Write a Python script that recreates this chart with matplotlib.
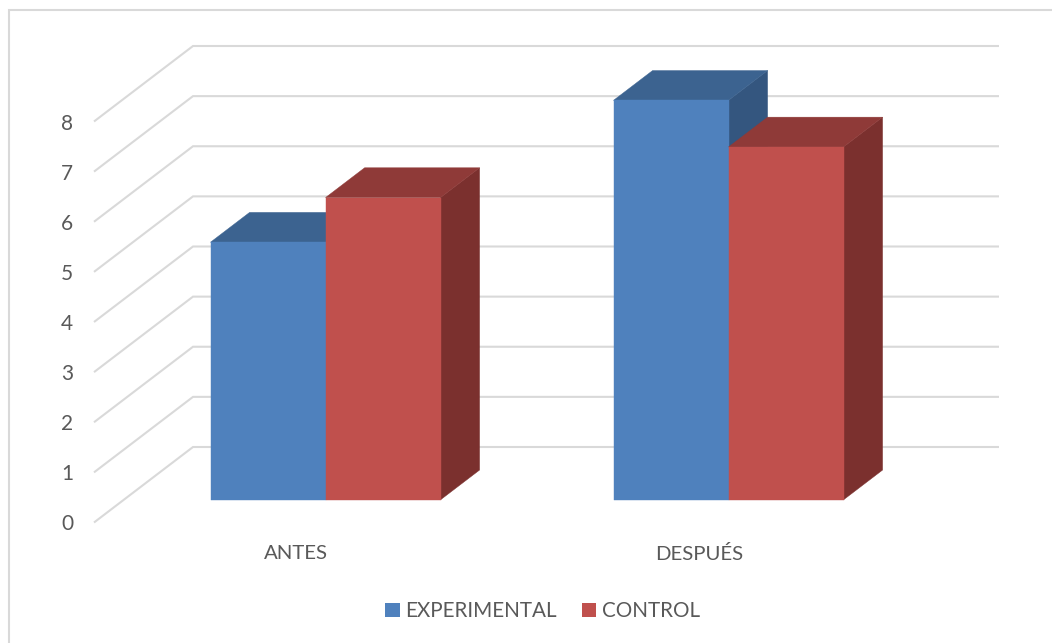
import matplotlib
matplotlib.use("Agg")
import matplotlib.pyplot as plt
from matplotlib.patches import Polygon, Rectangle

categories = ["ANTES", "DESPUÉS"]
experimental = [5.14, 7.97]
control = [6.03, 7.04]
y_ticks = [0, 1, 2, 3, 4, 5, 6, 7, 8]

plt.rcParams['font.family'] = ['Lato', 'DejaVu Sans']
TEXT = '#595959'
GRID = '#D9D9D9'
W, H = 1052, 643
fig = plt.figure(figsize=(W / 100, H / 100), dpi=100, facecolor='white')

# axes = front plane of the 3D box, in pixels of the figure
L, R, B, T = 94, 900, 522.5, 121.5
ax = fig.add_axes([L / W, 1 - B / H, (R - L) / W, (B - T) / H])
PX_X = 403.0
X0 = 295.8
ax.set_xlim((L - X0) / PX_X, (R - X0) / PX_X)
ax.set_ylim(0, 8)
ax.patch.set_alpha(0)
for s in ax.spines.values():
    s.set_visible(False)

DX = 99 / PX_X
DY = 75.5 / ((B - T) / 8)
D_FRONT, D_BACK = 0.30, 0.695
BAR_W = 115 / PX_X


def proj(x, v, d):
    return (x + d * DX, v + d * DY)


# grid: side wall then back wall
xl, xr = ax.get_xlim()
for v in y_ticks:
    pts = [proj(xl, v, 0), proj(xl, v, 1), proj(xr, v, 1)]
    ax.plot(*zip(*pts), color=GRID, lw=1.5, clip_on=False, zorder=1,
            solid_joinstyle='miter', solid_capstyle='butt')


def bar3d(x0, x1, v, front, top, side, z):
    faces = [
        ([proj(x1, 0, D_FRONT), proj(x1, 0, D_BACK), proj(x1, v, D_BACK), proj(x1, v, D_FRONT)], side),
        ([proj(x0, v, D_FRONT), proj(x1, v, D_FRONT), proj(x1, v, D_BACK), proj(x0, v, D_BACK)], top),
        ([proj(x0, 0, D_FRONT), proj(x1, 0, D_FRONT), proj(x1, v, D_FRONT), proj(x0, v, D_FRONT)], front),
    ]
    for pts, c in faces:
        ax.add_patch(Polygon(pts, closed=True, facecolor=c, edgecolor=c, lw=0.3,
                             clip_on=False, zorder=z))


BLUE = ('#4F81BD', '#3C6390', '#34567F')
RED = ('#C0504D', '#8F3A38', '#7B302E')
for i in range(len(categories)):
    bar3d(i - BAR_W, i, experimental[i], *BLUE, 3 + i * 2)
    bar3d(i, i + BAR_W, control[i], *RED, 4 + i * 2)

ax.set_yticks(y_ticks)
ax.set_yticklabels([str(v) for v in y_ticks])
ax.set_xticks(range(len(categories)))
ax.set_xticklabels(categories)
ax.tick_params(axis='y', length=0, pad=15, labelsize=15, labelcolor=TEXT)
ax.tick_params(axis='x', length=0, pad=16, labelsize=14.7, labelcolor=TEXT)

handles = [Rectangle((0, 0), 1, 1, facecolor=BLUE[0]), Rectangle((0, 0), 1, 1, facecolor=RED[0])]
fig.legend(handles, ["EXPERIMENTAL", "CONTROL"], ncol=2, frameon=False,
           loc='center', bbox_to_anchor=(542.5 / W, 1 - 611 / H),
           prop={'size': 14.9}, labelcolor=TEXT, handlelength=0.7, handleheight=0.7,
           handletextpad=0.27, columnspacing=1.2, borderpad=0, borderaxespad=0)

# chart-area frame, open towards right and bottom edges
fig.add_artist(plt.Line2D([8.5 / W, 8.5 / W, 1], [0, 1 - 10 / H, 1 - 10 / H],
                          color=GRID, lw=1.5, solid_joinstyle='miter'))

fig.savefig('out.png', dpi=100, facecolor='white')
